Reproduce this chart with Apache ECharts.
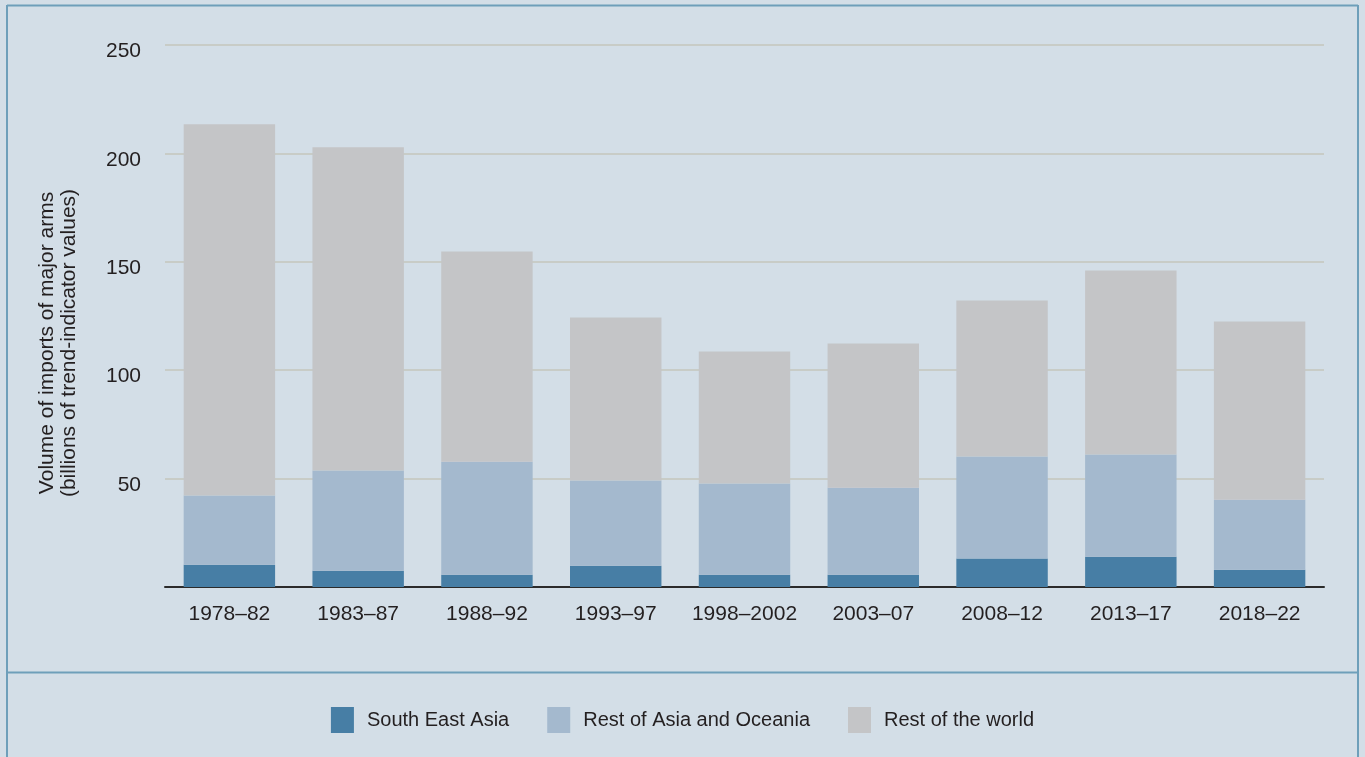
<!DOCTYPE html>
<html>
<head>
<meta charset="utf-8">
<script src="https://cdn.jsdelivr.net/npm/echarts@6/dist/echarts.min.js"></script>
<style>
html,body{margin:0;padding:0;background:#d3dee7;}
#chart{width:1365px;height:757px;}
</style>
</head>
<body>
<div id="chart"></div>
<script>
var categories = ['1978–82','1983–87','1988–92','1993–97','1998–2002','2003–07','2008–12','2013–17','2018–22'];
var southEastAsia = [10.3, 7.5, 5.7, 9.8, 5.7, 5.7, 13.1, 14.0, 8.0];
var restOfAsiaOceania = [31.9, 46.2, 52.1, 39.3, 42.0, 40.1, 47.1, 47.1, 32.3];
var restOfWorld = [171.2, 149.1, 97.0, 75.2, 60.9, 66.5, 72.0, 84.9, 82.2];
var yTicks = [0, 50, 100, 150, 200, 250];

var FONT = 'Liberation Sans';
var TXT = '#231f20';
var chart = echarts.init(document.getElementById('chart'));
var frame = '#6e9fba';
chart.setOption({
  backgroundColor: '#d3dee7',
  animation: false,
  textStyle: {fontFamily: FONT},
  grid: {left: 165, right: 41, top: 45, bottom: 170, containLabel: false},
  legend: {
    left: 'center', top: 702,
    itemWidth: 23, itemHeight: 26, itemGap: 38,
    icon: 'rect',
    textStyle: {fontFamily: FONT, fontSize: 20, color: TXT, padding: [0,0,0,8]},
    data: ['South East Asia','Rest of Asia and Oceania','Rest of the world']
  },
  xAxis: {
    type: 'category', data: categories,
    axisLine: {lineStyle: {color: '#2b2b2b', width: 2}},
    axisTick: {show: false},
    axisLabel: {fontFamily: FONT, fontSize: 21, color: TXT, margin: 17, interval: 0}
  },
  yAxis: {
    type: 'value', min: yTicks[0], max: yTicks[yTicks.length-1], interval: 50,
    axisLine: {show: false}, axisTick: {show: false},
    axisLabel: {fontFamily: FONT, fontSize: 21, color: TXT, margin: 24,
      verticalAlign: 'top', lineHeight: 13,
      formatter: function(v){ return v === 0 ? '' : String(v); }},
    splitLine: {lineStyle: {color: '#c8ccc7', width: 2}}
  },
  graphic: [
    {type: 'line', shape: {x1: 7, y1: 5.5, x2: 1358, y2: 5.5}, style: {stroke: frame, lineWidth: 2}},
    {type: 'line', shape: {x1: 7, y1: 5, x2: 7, y2: 757}, style: {stroke: frame, lineWidth: 2}},
    {type: 'line', shape: {x1: 1358, y1: 5, x2: 1358, y2: 757}, style: {stroke: frame, lineWidth: 2}},
    {type: 'line', shape: {x1: 7, y1: 672.5, x2: 1358, y2: 672.5}, style: {stroke: frame, lineWidth: 2}},
    {type: 'text', x: 58, y: 343, rotation: Math.PI/2,
     style: {text: 'Volume of imports of major arms\n(billions of trend-indicator values)',
       fontFamily: FONT, fontSize: 21, fill: TXT, textAlign: 'center', textVerticalAlign: 'middle', lineHeight: 22}}
  ],
  series: [
    {name: 'South East Asia', type: 'bar', stack: 'a', data: southEastAsia, barCategoryGap: '29%', itemStyle: {color: '#477ea5'}},
    {name: 'Rest of Asia and Oceania', type: 'bar', stack: 'a', data: restOfAsiaOceania, itemStyle: {color: '#a4b9ce'}},
    {name: 'Rest of the world', type: 'bar', stack: 'a', data: restOfWorld, itemStyle: {color: '#c4c5c7'}}
  ]
});
</script>
</body>
</html>
